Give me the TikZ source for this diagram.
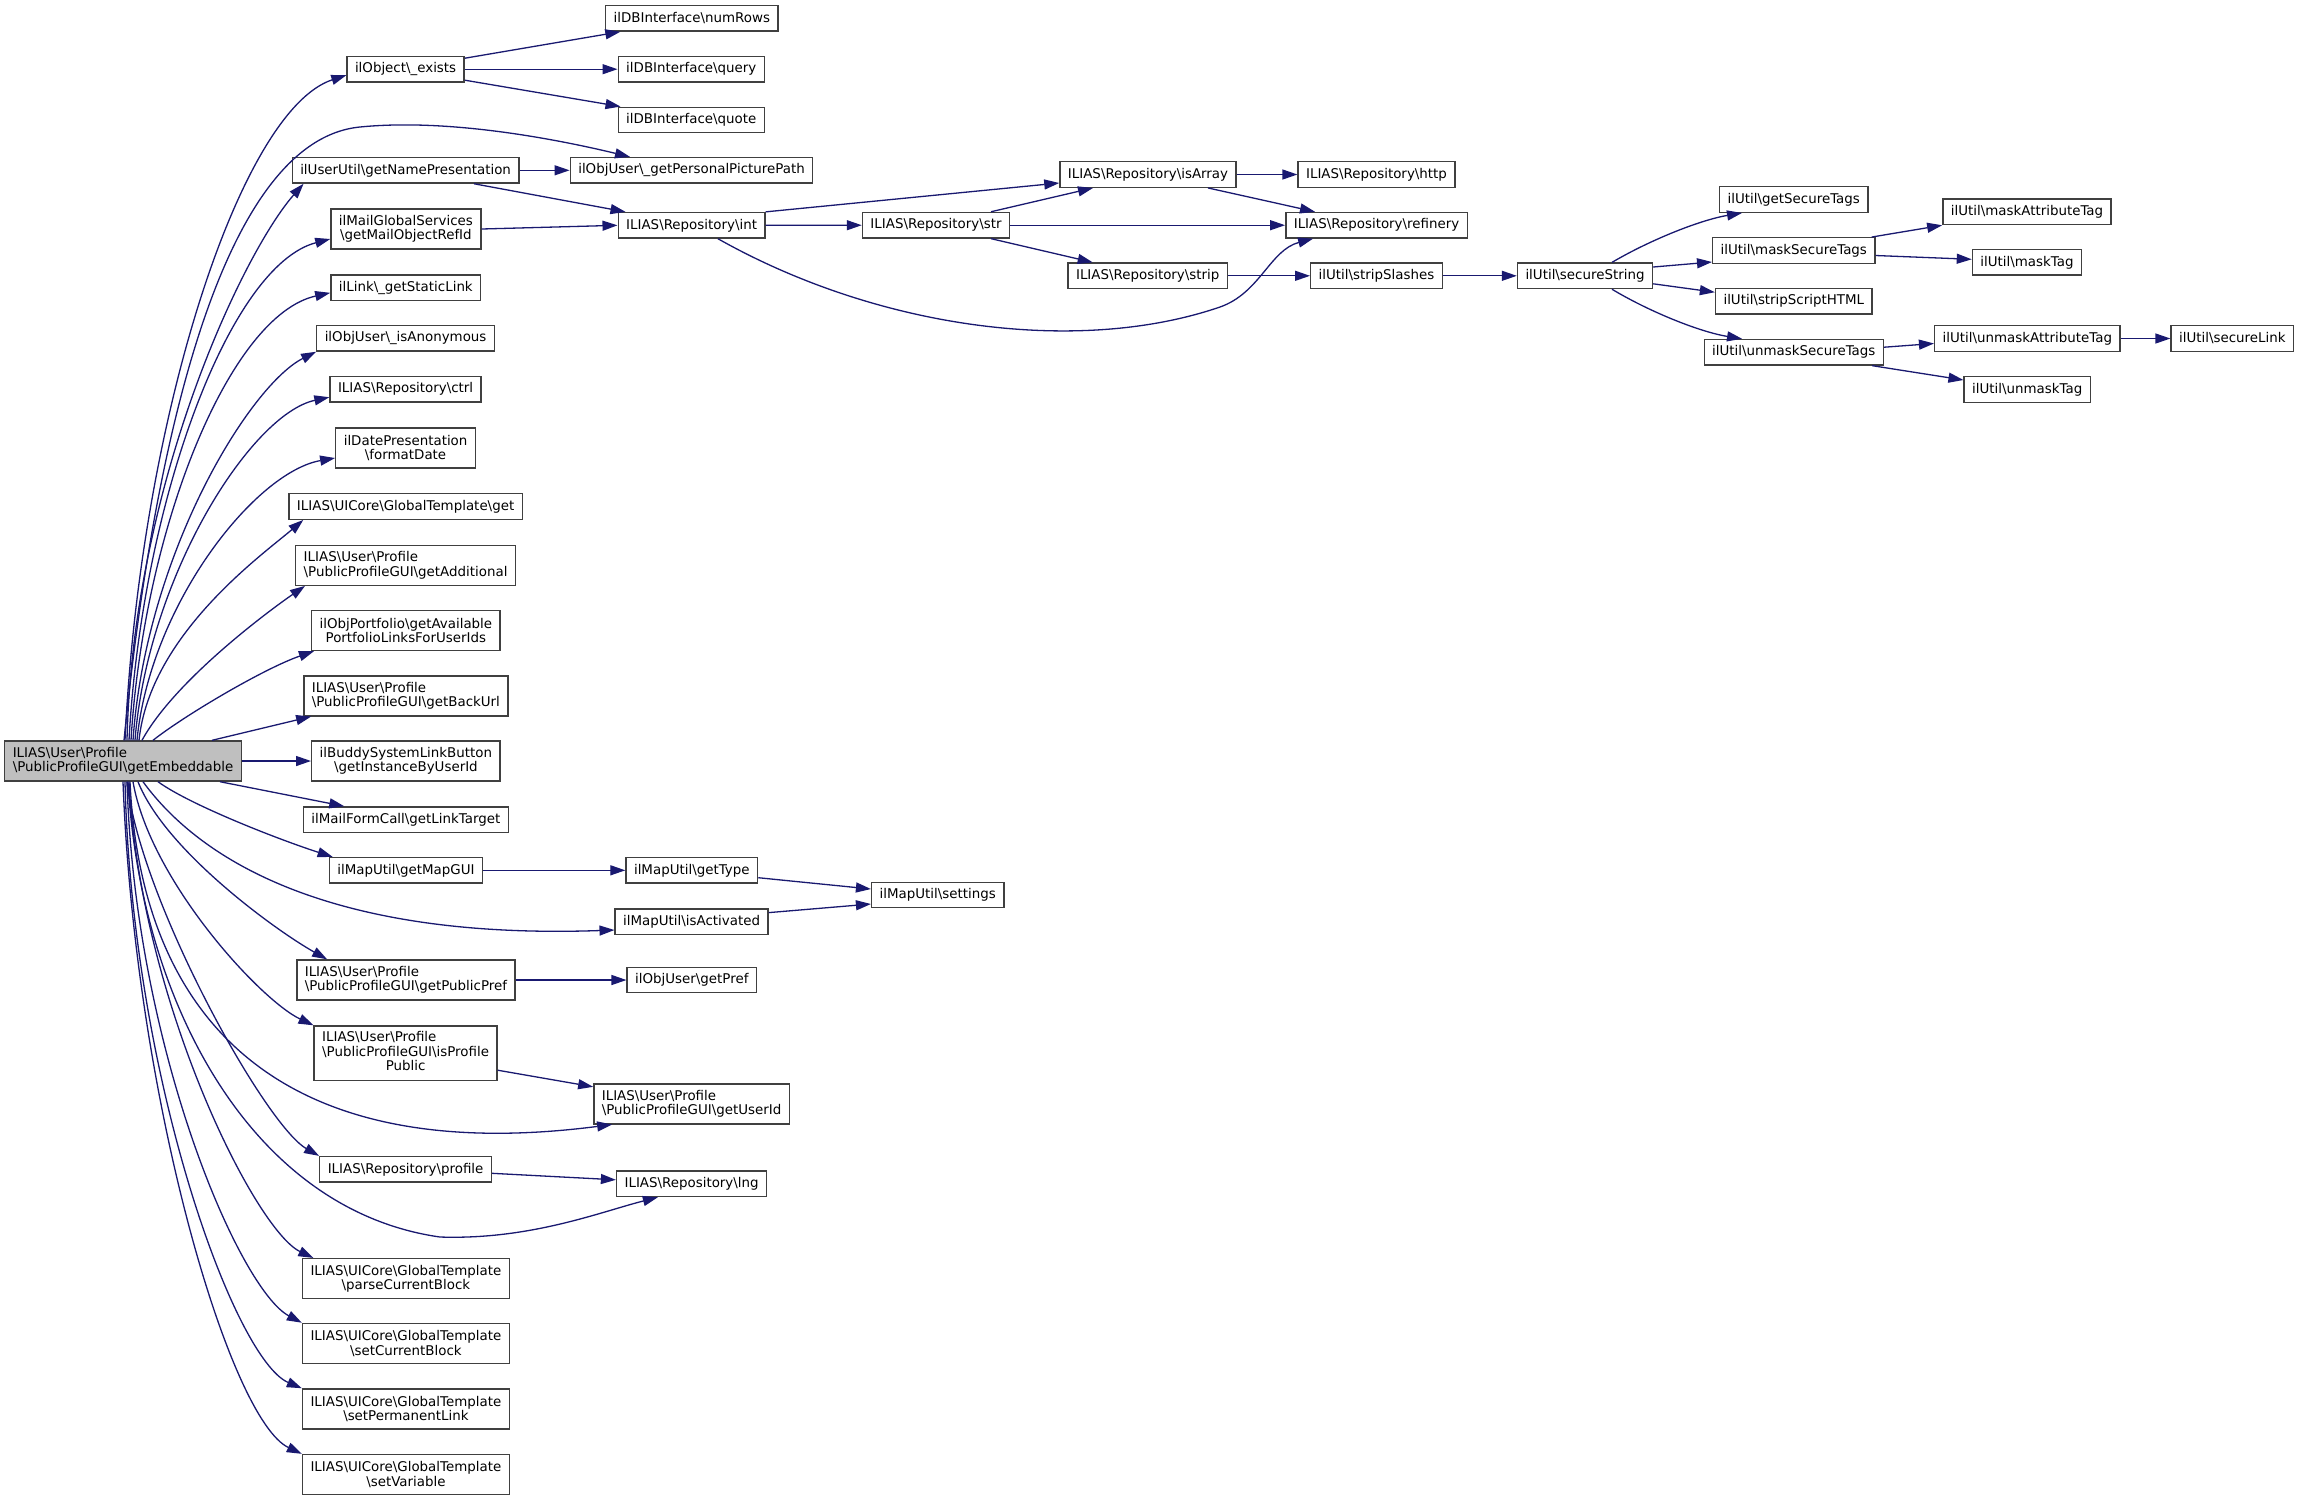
\documentclass[tikz,border=0pt]{standalone}
\usepackage{fontspec}
\setmainfont{DejaVu Sans}
\usetikzlibrary{arrows.meta}
\definecolor{edgeblue}{HTML}{191970}
\definecolor{boxline}{HTML}{404040}
\definecolor{rootfill}{HTML}{BFBFBF}
\newcommand{\bksl}{\textbackslash}
\begin{document}
\begin{tikzpicture}[x=0.5pt,y=-0.5pt,
    fn/.style={draw=boxline, fill=white, line width=0.7pt, inner xsep=4pt, inner ysep=0.5pt,
      minimum height=12.75pt, font=\fontsize{6.7}{7.25}\selectfont},
    fntwo/.style={fn, minimum height=20pt},
    fnthree/.style={fn, minimum height=27.2pt},
    call/.style={edgeblue, line width=0.65pt, -{Triangle[length=7.5pt,width=5pt]}}]
  \path[use as bounding box, fill=white] (0,0) rectangle (2301,1501);

  % caller
  \node[fntwo, fill=rootfill, align=left] (root) at (123,761)
    {ILIAS\bksl User\bksl Profile\\\bksl PublicProfileGUI\bksl getEmbeddable};

  % first column
  \node[fn] (exists) at (405.6,69.2) {ilObject\bksl\_exists};
  \node[fn] (namepres) at (405.6,170.3) {ilUserUtil\bksl getNamePresentation};
  \node[fntwo, align=center] (mailref) at (405.9,229) {ilMailGlobalServices\\\bksl getMailObjectRefId};
  \node[fn] (staticlink) at (405.8,287.8) {ilLink\bksl\_getStaticLink};
  \node[fn] (anon) at (405.6,338.3) {ilObjUser\bksl\_isAnonymous};
  \node[fn] (ctrl) at (405.6,389.2) {ILIAS\bksl Repository\bksl ctrl};
  \node[fntwo, align=center] (fmtdate) at (405.6,448) {ilDatePresentation\\\bksl formatDate};
  \node[fn] (tplget) at (405.6,506.5) {ILIAS\bksl UICore\bksl GlobalTemplate\bksl get};
  \node[fntwo, align=left] (additional) at (405.6,565.2)
    {ILIAS\bksl User\bksl Profile\\\bksl PublicProfileGUI\bksl getAdditional};
  \node[fntwo, align=center] (portfolio) at (405.9,630.5)
    {ilObjPortfolio\bksl getAvailable\\PortfolioLinksForUserIds};
  \node[fntwo, align=left] (backurl) at (405.9,695.8)
    {ILIAS\bksl User\bksl Profile\\\bksl PublicProfileGUI\bksl getBackUrl};
  \node[fntwo, align=center] (buddy) at (405.9,761) {ilBuddySystemLinkButton\\\bksl getInstanceByUserId};
  \node[fn] (linktarget) at (405.9,819.7) {ilMailFormCall\bksl getLinkTarget};
  \node[fn] (mapgui) at (405.9,870.3) {ilMapUtil\bksl getMapGUI};
  \node[fntwo, align=left] (publicpref) at (405.9,980)
    {ILIAS\bksl User\bksl Profile\\\bksl PublicProfileGUI\bksl getPublicPref};
  \node[fnthree] (profpublic) at (405.6,1053.2)
    {\begin{tabular}{@{}l@{}}ILIAS\bksl User\bksl Profile\\\bksl PublicProfileGUI\bksl isProfile\\
     \multicolumn{1}{@{}c@{}}{Public}\end{tabular}};
  \node[fn] (profile) at (405.6,1169.3) {ILIAS\bksl Repository\bksl profile};
  \node[fntwo, align=center] (parseblock) at (405.9,1278.6)
    {ILIAS\bksl UICore\bksl GlobalTemplate\\\bksl parseCurrentBlock};
  \node[fntwo, align=center] (setblock) at (405.9,1343.4)
    {ILIAS\bksl UICore\bksl GlobalTemplate\\\bksl setCurrentBlock};
  \node[fntwo, align=center] (setlink) at (405.9,1408.9)
    {ILIAS\bksl UICore\bksl GlobalTemplate\\\bksl setPermanentLink};
  \node[fntwo, align=center] (setvar) at (405.9,1474.5)
    {ILIAS\bksl UICore\bksl GlobalTemplate\\\bksl setVariable};

  % second column
  \node[fn] (numrows) at (691.8,18.3) {ilDBInterface\bksl numRows};
  \node[fn] (query) at (691.3,69.2) {ilDBInterface\bksl query};
  \node[fn] (quote) at (691.3,120) {ilDBInterface\bksl quote};
  \node[fn] (picpath) at (691.5,170.3) {ilObjUser\bksl\_getPersonalPicturePath};
  \node[fn] (int) at (691.6,225.3) {ILIAS\bksl Repository\bksl int};
  \node[fn] (gettype) at (691.8,870.3) {ilMapUtil\bksl getType};
  \node[fn] (activated) at (691.6,921.6) {ilMapUtil\bksl isActivated};
  \node[fn] (getpref) at (691.8,980) {ilObjUser\bksl getPref};
  \node[fntwo, align=left] (userid) at (691.6,1103.8)
    {ILIAS\bksl User\bksl Profile\\\bksl PublicProfileGUI\bksl getUserId};
  \node[fn] (lng) at (691.6,1183.8) {ILIAS\bksl Repository\bksl lng};

  % further columns
  \node[fn] (str) at (936,225.2) {ILIAS\bksl Repository\bksl str};
  \node[fn] (settings) at (937.7,895) {ilMapUtil\bksl settings};
  \node[fn] (isarray) at (1148,174.5) {ILIAS\bksl Repository\bksl isArray};
  \node[fn] (strip) at (1147.7,275.8) {ILIAS\bksl Repository\bksl strip};
  \node[fn] (http) at (1376.5,174.5) {ILIAS\bksl Repository\bksl http};
  \node[fn] (refinery) at (1376.5,225.2) {ILIAS\bksl Repository\bksl refinery};
  \node[fn] (stripslashes) at (1376.5,275.8) {ilUtil\bksl stripSlashes};
  \node[fn] (securestr) at (1585,275.8) {ilUtil\bksl secureString};
  \node[fn] (securetags) at (1793.8,199.5) {ilUtil\bksl getSecureTags};
  \node[fn] (masktags) at (1793.8,250.5) {ilUtil\bksl maskSecureTags};
  \node[fn] (stripscript) at (1793.8,301.2) {ilUtil\bksl stripScriptHTML};
  \node[fn] (unmasktags) at (1793.8,352.2) {ilUtil\bksl unmaskSecureTags};
  \node[fn] (maskattr) at (2027,211.8) {ilUtil\bksl maskAttributeTag};
  \node[fn] (masktag) at (2027,262.3) {ilUtil\bksl maskTag};
  \node[fn] (unmaskattr) at (2027.3,338.5) {ilUtil\bksl unmaskAttributeTag};
  \node[fn] (unmasktag) at (2027.2,389.5) {ilUtil\bksl unmaskTag};
  \node[fn] (securelink) at (2232.3,338.5) {ilUtil\bksl secureLink};

  \begin{scope}[call]
    % from the caller, upwards
    \draw ([xshift=1pt]root.north) .. controls (140,420) and (240,110) .. ([yshift=-3pt]exists.west);
    \draw ([xshift=0.5pt]root.north) .. controls (155,430) and (225,140) .. (360,127)
      .. controls (450,118) and (560,140) .. ([xshift=-30.75pt]picpath.north);
    \draw ([xshift=2pt]root.north) .. controls (133,480) and (245,250) .. ([xshift=6pt]namepres.south west);
    \draw ([xshift=3pt]root.north) .. controls (142,500) and (230,265) .. ([yshift=-5pt]mailref.west);
    \draw ([xshift=4pt]root.north) .. controls (144,526) and (230,315) .. ([yshift=-2.5pt]staticlink.west);
    \draw ([xshift=5pt]root.north) .. controls (146,553) and (250,385) .. (anon.south west);
    \draw ([xshift=6pt]root.north) .. controls (148,576) and (251,414) .. ([yshift=-4pt]ctrl.west);
    \draw ([xshift=7pt]root.north) .. controls (150,605) and (255,472) .. ([yshift=-5pt]fmtdate.west);
    \draw ([xshift=8pt]root.north) .. controls (150,635) and (262,555) .. ([xshift=7.5pt]tplget.south west);
    \draw ([xshift=9.5pt]root.north) .. controls (175,680) and (270,610) .. ([xshift=5pt]additional.south west);
    \draw ([xshift=15pt]root.north) .. controls (185,715) and (265,668) .. ([xshift=1.5pt]portfolio.south west);
    \draw ([xshift=44.5pt]root.north) -- ([xshift=4pt]backurl.south west);
    \draw (root.east) -- (buddy.west);
    \draw ([xshift=48.5pt]root.south) -- ([xshift=20.75pt]linktarget.north west);
    % from the caller, downwards
    \draw ([xshift=17.5pt]root.south) .. controls (190,805) and (280,840) .. ([xshift=2pt]mapgui.north west);
    \draw ([xshift=10pt]root.south) .. controls (200,860) and (330,940) .. ([yshift=-4.2pt]activated.west);
    \draw ([xshift=7.5pt]root.south) .. controls (165,850) and (275,930) .. ([xshift=15.5pt]publicpref.north west);
    \draw ([xshift=5pt]root.south) .. controls (150,880) and (260,1000) .. (profpublic.north west);
    \draw ([xshift=3.5pt]root.south) .. controls (140,1000) and (260,1170) .. ([xshift=9.5pt]userid.south west);
    \draw ([xshift=2pt]root.south) .. controls (140,900) and (265,1125) .. (profile.north west);
    \draw ([xshift=2.5pt]root.south) .. controls (140,1000) and (250,1210) .. (440,1237)
      .. controls (530,1240) and (600,1212) .. ([xshift=21pt]lng.south west);
    \draw ([xshift=3pt]root.south) .. controls (140,1000) and (255,1230) .. ([xshift=5.75pt]parseblock.north west);
    \draw ([xshift=2pt]root.south) .. controls (135,1050) and (240,1290) .. (setblock.north west);
    \draw ([xshift=1pt]root.south) .. controls (132,1080) and (235,1360) .. (setlink.north west);
    \draw (root.south) .. controls (135,1100) and (230,1420) .. (setvar.north west);

    % the rest of the calls
    \draw ([yshift=5.5pt]exists.east) -- ([xshift=7.7pt]numrows.south west);
    \draw (exists.east) -- (query.west);
    \draw ([yshift=-5.5pt]exists.east) -- ([xshift=1.5pt]quote.north west);
    \draw (namepres.east) -- (picpath.west);
    \draw ([xshift=34.2pt]namepres.south) -- ([xshift=4pt]int.north west);
    \draw (mailref.east) -- (int.west);
    \draw (int.north east) -- ([yshift=-4.25pt]isarray.west);
    \draw (int.east) -- (str.west);
    \draw ([xshift=13.2pt]int.south) .. controls (880,330) and (1080,355) .. (1220,307)
      .. controls (1260,293) and (1270,250) .. ([xshift=14pt]refinery.south west);
    \draw ([xshift=27.5pt]str.north) -- ([xshift=-27.5pt]isarray.south);
    \draw (str.east) -- (refinery.west);
    \draw ([xshift=27.5pt]str.south) -- ([xshift=-27.5pt]strip.north);
    \draw (isarray.east) -- (http.west);
    \draw ([xshift=30pt]isarray.south) -- ([xshift=-30.75pt]refinery.north);
    \draw (strip.east) -- (stripslashes.west);
    \draw (stripslashes.east) -- (securestr.west);
    \draw ([xshift=13.5pt]securestr.north) .. controls (1650,240) and (1700,220) .. ([xshift=-25.9pt]securetags.south);
    \draw ([yshift=4.4pt]securestr.east) -- ([yshift=-5.75pt]masktags.west);
    \draw ([yshift=-4pt]securestr.east) -- ([yshift=4.5pt]stripscript.west);
    \draw ([xshift=13.5pt]securestr.south) .. controls (1650,312) and (1700,332) .. ([xshift=-25.9pt]unmasktags.north);
    \draw ([xshift=-2pt]masktags.north east) -- (maskattr.south west);
    \draw ([yshift=-2.5pt]masktags.east) -- ([yshift=1.5pt]masktag.west);
    \draw ([yshift=2.5pt]unmasktags.east) -- ([yshift=-2.5pt]unmaskattr.west);
    \draw ([xshift=-6pt]unmasktags.south east) -- ([yshift=4.75pt]unmasktag.west);
    \draw (unmaskattr.east) -- (securelink.west);
    \draw (mapgui.east) -- (gettype.west);
    \draw ([yshift=-3.7pt]gettype.east) -- ([yshift=3pt]settings.west);
    \draw ([yshift=4.5pt]activated.east) -- ([yshift=-4.5pt]settings.west);
    \draw (publicpref.east) -- (getpref.west);
    \draw ([yshift=-8.5pt]profpublic.east) -- ([yshift=8.5pt]userid.west);
    \draw ([yshift=-2pt]profile.east) -- ([yshift=2pt]lng.west);
  \end{scope}
\end{tikzpicture}
\end{document}
